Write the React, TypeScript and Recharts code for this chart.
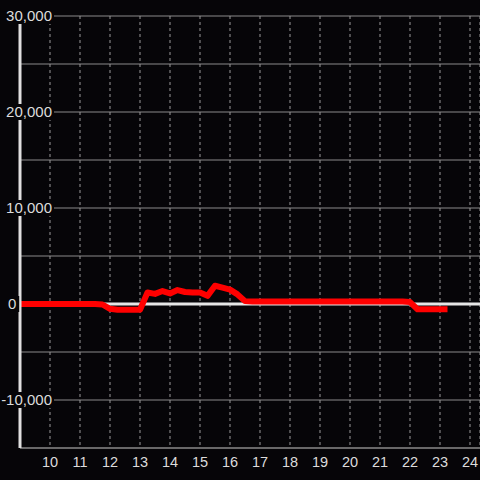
import React from "react";
import {
  LineChart,
  Line,
  XAxis,
  YAxis,
  CartesianGrid,
  ReferenceLine,
} from "recharts";

// hour of day -> value
const hours = [
  9, 9.5, 10, 10.5, 11, 11.5, 11.75, 12, 12.25, 12.5, 12.75, 13, 13.25, 13.5,
  13.75, 14, 14.25, 14.5, 14.75, 15, 15.25, 15.5, 15.75, 16, 16.25, 16.5,
  16.75, 17, 18, 19, 20, 21, 21.75, 22, 22.25, 22.5, 23, 23.25,
];
const values = [
  0, 0, 0, 0, 0, 0, -50, -500, -600, -600, -600, -600, 1200, 1050, 1350, 1100,
  1450, 1250, 1200, 1200, 850, 1900, 1700, 1500, 1000, 300, 250, 250, 250, 250,
  250, 250, 250, 200, -550, -550, -550, -550,
];

const xTicks = [10, 11, 12, 13, 14, 15, 16, 17, 18, 19, 20, 21, 22, 23, 24];
const yTicks = [-15000, -10000, -5000, 0, 5000, 10000, 15000, 20000, 25000, 30000];
const yLabels = [-10000, 0, 10000, 20000, 30000];

const data = hours.map((t, i) => ({ t, v: values[i] }));

const BG = "#060508";
const TEXT = "#dcdcdc";
const FONT = "'Liberation Sans', Arial, sans-serif";

const YTick: React.FC<any> = ({ x, y, payload }) => {
  const val = payload.value as number;
  if (!yLabels.includes(val)) return null;
  const label = val.toLocaleString("en-US");
  // zero label sits at the left edge, the rest end just past the axis
  const isZero = val === 0;
  const w = label.length * 8.2 + 2;
  const tx = isZero ? x - 12 : x + 32;
  const anchor = isZero ? "start" : "end";
  const bx = isZero ? tx - 1 : tx - w;
  return (
    <g>
      <rect x={bx} y={y - 8} width={w + 2} height={16} fill={BG} />
      <text
        x={tx}
        y={y}
        dy="0.35em"
        textAnchor={anchor}
        fill={TEXT}
        style={{ fontSize: 15, fontFamily: FONT }}
      >
        {label}
      </text>
    </g>
  );
};

export default function App() {
  return (
    <div
      style={{
        position: "fixed",
        top: 0,
        left: 0,
        width: 480,
        height: 480,
        background: BG,
        fontFamily: FONT,
      }}
    >
      <LineChart
        width={480}
        height={480}
        data={data}
        margin={{ top: 16, right: 0, left: 0, bottom: 0 }}
      >
        <CartesianGrid vertical={false} stroke="#8a8a8a" strokeWidth={1} />
        <CartesianGrid
          horizontal={false}
          stroke="#9a9a9a"
          strokeDasharray="3 3"
        />
        <XAxis
          type="number"
          dataKey="t"
          domain={[9, 24.3333]}
          allowDataOverflow
          ticks={xTicks}
          height={32}
          tickLine={false}
          tickSize={0}
          tickMargin={9}
          axisLine={{ stroke: "#8a8a8a", strokeWidth: 1 }}
          tick={{ fill: TEXT, fontSize: 14.5, fontFamily: FONT }}
          interval={0}
        />
        <ReferenceLine y={0} stroke="#e6e6e6" strokeWidth={3} />
        <YAxis
          type="number"
          domain={[-15000, 30000]}
          ticks={yTicks}
          width={20}
          tickLine={false}
          tickSize={0}
          tickMargin={0}
          axisLine={{ stroke: "#e0e0e0", strokeWidth: 3 }}
          tick={<YTick />}
          interval={0}
        />
        <Line
          type="linear"
          dataKey="v"
          stroke="#ff0000"
          strokeWidth={6}
          strokeLinejoin="round"
          dot={false}
          isAnimationActive={false}
        />
      </LineChart>
    </div>
  );
}
